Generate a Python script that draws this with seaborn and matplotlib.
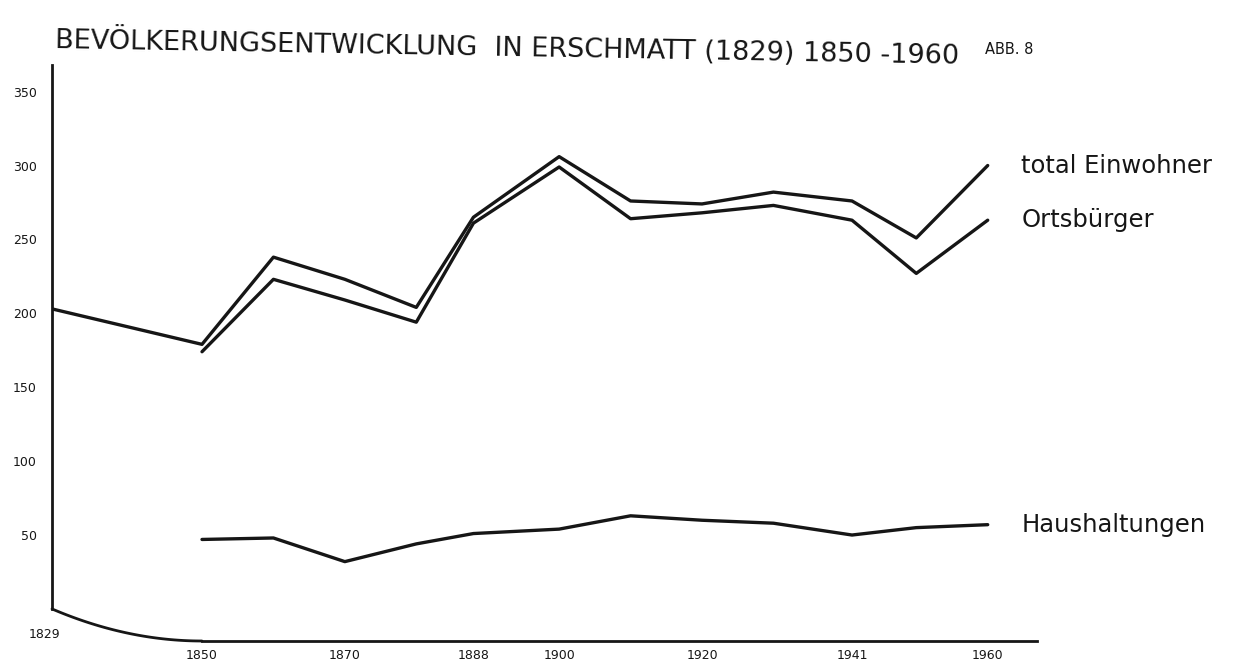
import numpy as np
import pandas as pd
import matplotlib
matplotlib.use("Agg")
import matplotlib.pyplot as plt
import seaborn as sns

# Census years and values
jahre_total = [1829, 1850, 1860, 1870, 1880, 1888, 1900, 1910, 1920, 1930, 1941, 1950, 1960]
total_einwohner = [203, 179, 238, 223, 204, 265, 306, 276, 274, 282, 276, 251, 300]

jahre = [1850, 1860, 1870, 1880, 1888, 1900, 1910, 1920, 1930, 1941, 1950, 1960]
ortsbuerger = [174, 223, 209, 194, 261, 299, 264, 268, 273, 263, 227, 263]
haushaltungen = [47, 48, 32, 44, 51, 54, 63, 60, 58, 50, 55, 57]

y_ticks = [50, 100, 150, 200, 250, 300, 350]
x_labels = {1850: "1850", 1870: "1870", 1888: "1888", 1900: "1900",
            1920: "1920", 1941: "1941", 1960: "1960"}

df = pd.concat([
    pd.DataFrame({"Jahr": jahre_total, "Wert": total_einwohner, "Reihe": "total Einwohner"}),
    pd.DataFrame({"Jahr": jahre, "Wert": ortsbuerger, "Reihe": "Ortsbürger"}),
    pd.DataFrame({"Jahr": jahre, "Wert": haushaltungen, "Reihe": "Haushaltungen"}),
])

sns.set_style("white")
plt.rcParams["font.family"] = ["DejaVu Sans"]
ink = "#161616"

fig = plt.figure(figsize=(12.39, 6.64), dpi=100)
ax = fig.add_axes([52 / 1239, 23 / 664, 985 / 1239, 576 / 664])

sns.lineplot(data=df, x="Jahr", y="Wert", hue="Reihe", estimator=None,
             palette={"total Einwohner": ink, "Ortsbürger": ink, "Haushaltungen": ink},
             linewidth=2.4, legend=False, ax=ax)

ax.set_xlim(1829, 1966.9)
ax.set_ylim(-21.7, 368)

# axes drawn like the original: left axis from 0 up, curved base from 1829 to 1850
for s in ["top", "right"]:
    ax.spines[s].set_visible(False)
ax.spines["left"].set_bounds(0, 368)
ax.spines["bottom"].set_bounds(1850, 1966.9)
for s in ["left", "bottom"]:
    ax.spines[s].set_linewidth(2)
    ax.spines[s].set_color(ink)
t = np.linspace(0, 1, 50)
ax.plot(1829 + 21 * t, -21.7 * (1 - (1 - t) ** 2), color=ink, lw=2, clip_on=False)

ax.set_xticks(jahre)
ax.set_xticklabels([x_labels.get(j, "") for j in jahre], fontsize=9)
ax.set_yticks(y_ticks)
ax.set_yticklabels([str(v) for v in y_ticks], fontsize=9)
ax.tick_params(axis="both", direction="out", length=5, width=1.8, color=ink, labelcolor=ink)
ax.tick_params(axis="x", pad=1)
ax.tick_params(axis="y", pad=6)
ax.set_xlabel("")
ax.set_ylabel("")

ax.text(1828, -13, "1829", fontsize=9, color=ink, ha="center", va="top")

# series names at the line ends
for name, vals in [("total Einwohner", total_einwohner), ("Ortsbürger", ortsbuerger),
                   ("Haushaltungen", haushaltungen)]:
    ax.text(1964.7, vals[-1], name, fontsize=17.5, color=ink, ha="left", va="center",
            clip_on=False)

fig.text(55 / 1239, 1 - 40 / 664, "BEVÖLKERUNGSENTWICKLUNG  IN ERSCHMATT (1829) 1850 -1960",
         fontsize=19.5, color=ink, ha="left", va="center", rotation=-1,
         rotation_mode="anchor")
fig.text(985 / 1239, 1 - 50 / 664, "ABB. 8", fontsize=10.5, color=ink, ha="left", va="center")

fig.savefig("out.png", dpi=100, facecolor="white")
